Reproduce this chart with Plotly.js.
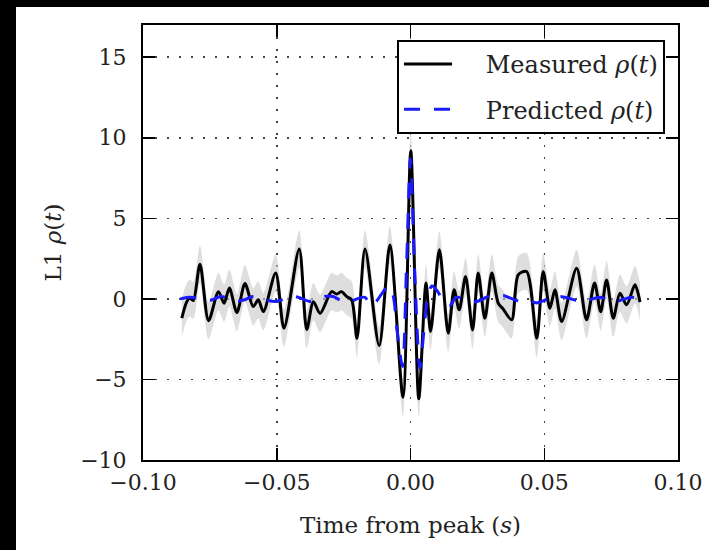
<!DOCTYPE html>
<html>
<head>
<meta charset="utf-8">
<script src="https://cdn.plot.ly/plotly-3.0.1.min.js"></script>
<style>
  html, body { margin: 0; padding: 0; background: #000; width: 709px; height: 550px; overflow: hidden; }
  #plot { position: absolute; left: 16px; top: 7px; width: 693px; height: 543px; }
</style>
</head>
<body>
<div id="plot"></div>
<script>
// Measured rho(t) (black line)
const measuredT = [-0.0855, -0.0837, -0.0825, -0.0812, -0.0787, -0.0755, -0.0718, -0.0697, -0.0677, -0.0649,
  -0.0619, -0.0588, -0.0569, -0.0550, -0.0504, -0.0473, -0.0416, -0.0388, -0.0363, -0.0338,
  -0.0295, -0.0276, -0.0258, -0.0238, -0.0220, -0.0200, -0.0170, -0.0117, -0.0077, -0.0028,
  0.0001, 0.0031, 0.0058, 0.0075, 0.0108, 0.0141, 0.0163, 0.0182, 0.0206, 0.0232,
  0.0253, 0.0278, 0.0304, 0.0328, 0.0345, 0.0378, 0.0403, 0.0434, 0.0472, 0.0496,
  0.0521, 0.0540, 0.0565, 0.0621, 0.0658, 0.0688, 0.0711, 0.0733, 0.0758, 0.0783,
  0.0808, 0.0839, 0.0858];
const measuredV = [-1.2, -0.2, 0.05, -0.1, 2.15, -1.35, 0.45, -0.27, 0.67, -0.85,
  0.95, -0.48, -0.06, -0.79, 1.6, -1.82, 3.1, -1.9, -0.17, -0.9,
  0.45, 0.3, 0.45, 0.14, -0.06, -2.45, 3.1, -2.9, 3.35, -6.1,
  9.2, -6.2, 0.98, -2.03, 3.05, -2.13, 0.56, -0.68, 1.39, -1.93,
  1.6, -1.2, 1.6, -0.27, -0.6, -1.3, 1.5, 1.7, -2.45, 1.7,
  -0.58, 0.56, -1.4, 1.9, -1.3, 0.98, -0.8, 1.18, -1.2, 0.35,
  -0.37, 0.87, -0.2];
// Half-width of the grey uncertainty band
const bandHalfWidth = 1.15;

// Predicted rho(t) (blue dashed line)
const predictedT = [-0.086, -0.083, -0.080, -0.077, -0.074, -0.071, -0.068, -0.065, -0.062, -0.059,
  -0.056, -0.053, -0.050, -0.047, -0.044, -0.041, -0.038, -0.035, -0.032, -0.029,
  -0.026, -0.023, -0.020, -0.017, -0.015, -0.013, -0.010, -0.0083, -0.0065, -0.005,
  -0.003, -0.0015, 0.0, 0.0015, 0.0035, 0.005, 0.0065, 0.008, 0.010, 0.0125,
  0.0148, 0.017, 0.020, 0.023, 0.026, 0.029, 0.032, 0.035, 0.038, 0.041,
  0.044, 0.047, 0.050, 0.053, 0.056, 0.059, 0.062, 0.065, 0.068, 0.071,
  0.074, 0.077, 0.080, 0.083, 0.086];
const predictedV = [0.0, 0.1, 0.05, -0.1, -0.05, 0.15, 0.05, -0.15, -0.05, 0.15,
  0.1, -0.1, -0.15, 0.0, 0.15, 0.05, -0.15, -0.1, 0.15, 0.15,
  -0.1, -0.2, 0.0, 0.1, -0.4, -0.2, 0.5, 0.8, 0.2, -2.0,
  -4.2, 2.0, 8.7, 2.0, -4.3, -2.0, 0.2, 0.8, 0.5, -0.2,
  -0.4, 0.1, 0.0, -0.2, -0.1, 0.15, 0.15, 0.2, 0.0, -0.15,
  -0.1, -0.25, -0.1, 0.1, 0.15, 0.05, -0.1, -0.15, 0.0, 0.1,
  -0.05, -0.15, 0.0, 0.1, 0.0];

const xTickVals = [-0.10, -0.05, 0.00, 0.05, 0.10];
const yTickVals = [-10, -5, 0, 5, 10, 15];
const seriesNames = ['Measured <i>ρ</i>(<i>t</i>)', 'Predicted <i>ρ</i>(<i>t</i>)'];

const bandLower = measuredV.map(v => v - bandHalfWidth);
const bandUpper = measuredV.map(v => v + bandHalfWidth);

const FONT = "DejaVu Serif, serif";
const GAP = '\u2002\u2002\u2009';

const traces = [
  { x: measuredT, y: bandLower, mode: 'lines', line: { width: 0, shape: 'spline', smoothing: 0.8 },
    showlegend: false, hoverinfo: 'skip' },
  { x: measuredT, y: bandUpper, mode: 'lines', line: { width: 0, shape: 'spline', smoothing: 0.8 },
    fill: 'tonexty', fillcolor: 'rgba(200,200,200,0.6)', showlegend: false, hoverinfo: 'skip' },
  { x: measuredT, y: measuredV, mode: 'lines', name: GAP + seriesNames[0],
    legendgroup: 'a', line: { color: '#000000', width: 3, shape: 'spline', smoothing: 0.8 } },
  { x: predictedT, y: predictedV, mode: 'lines', name: GAP + seriesNames[1],
    legendgroup: 'b', line: { color: '#1a1aff', width: 3, dash: '16px,14px', shape: 'spline', smoothing: 0.8 } }
];

const axisCommon = {
  showline: true, linecolor: '#000', linewidth: 2, mirror: 'ticks',
  ticks: 'inside', ticklen: 12, tickwidth: 1.5, tickcolor: '#000',
  showgrid: true, gridcolor: '#444', gridwidth: 1.5, griddash: '2px,10px',
  zeroline: false, tickfont: { family: FONT, size: 22, color: '#222' }
};

const layout = {
  width: 693, height: 543,
  margin: { l: 127, r: 31, t: 18, b: 90 },
  paper_bgcolor: '#ffffff', plot_bgcolor: '#ffffff',
  showlegend: true,
  xaxis: Object.assign({}, axisCommon, {
    range: [-0.1, 0.1], tickvals: xTickVals, tickformat: '.2f', ticklabelstandoff: 2,
    title: { text: 'Time from peak (<i>s</i>)', font: { family: FONT, size: 23, color: '#222' }, standoff: 22 }
  }),
  yaxis: Object.assign({}, axisCommon, {
    range: [-10, 17], tickvals: yTickVals, ticklabelstandoff: 10,
    title: { text: 'L1 <i>ρ</i>(<i>t</i>)', font: { family: FONT, size: 23, color: '#222' }, standoff: 12 }
  }),
  legend: {
    x: 0.9757, xanchor: 'right', y: 0.9655, yanchor: 'top',
    bgcolor: '#ffffff', bordercolor: '#000', borderwidth: 2,
    font: { family: FONT, size: 24, color: '#222' },
    traceorder: 'grouped', tracegroupgap: 11, itemwidth: 48
  }
};

Plotly.newPlot('plot', traces, layout, { displayModeBar: false, staticPlot: true });
</script>
</body>
</html>
